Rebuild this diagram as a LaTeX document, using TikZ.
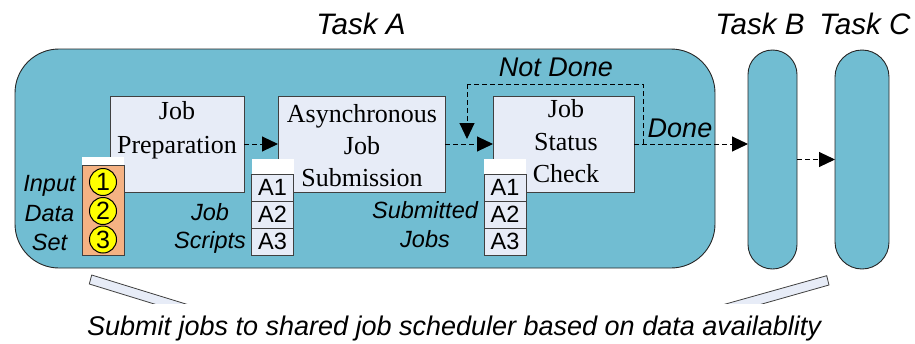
\documentclass[tikz,border=0pt]{standalone}
\usepackage{fontspec}
\setmainfont{Liberation Serif}
\setsansfont{Liberation Sans}
\usetikzlibrary{arrows.meta,calc}
\definecolor{taskblue}{HTML}{71BDD2}
\definecolor{boxfill}{HTML}{E7ECF7}
\definecolor{boxline}{HTML}{404040}
\definecolor{dataorange}{HTML}{F5B283}
\definecolor{dotyellow}{HTML}{FFFF00}

\begin{document}
\begin{tikzpicture}[x=1pt,y=-1pt,
  every node/.style={inner sep=0pt, outer sep=0pt},
  taskshape/.style={draw=black!85, line width=0.9pt, fill=taskblue},
  stepbox/.style={draw=boxline, line width=1pt, fill=boxfill, minimum height=96pt},
  steptext/.style={anchor=base, font=\fontsize{26}{32}\selectfont},
  cell/.style={draw=boxline, line width=1pt, fill=boxfill, minimum width=42pt, minimum height=27pt,
    font=\sffamily\fontsize{23.5}{23.5}\selectfont},
  capcell/.style={fill=white, minimum width=42pt},
  dot/.style={circle, draw=black, line width=1pt, fill=dotyellow, minimum size=27pt,
    font=\sffamily\fontsize{25}{25}\selectfont},
  tag/.style={anchor=base, font=\sffamily\itshape\fontsize{23.5}{28}\selectfont},
  title/.style={anchor=base, font=\sffamily\itshape\fontsize{29.6}{30}\selectfont},
  branch/.style={anchor=base, font=\sffamily\itshape\fontsize{27}{27}\selectfont},
  flow/.style={draw=black, line width=1pt, dash pattern=on 5pt off 3pt,
    -{Triangle[length=16pt,width=15pt]}},
  loopline/.style={draw=black, line width=1pt, dash pattern=on 5pt off 3pt},
  strip/.style={draw=boxline, line width=0.8pt, fill=boxfill},
]
\useasboundingbox (0,0) rectangle (915,343);

% task containers
\node[taskshape, rounded corners=44pt, minimum width=700pt, minimum height=219pt] (taskA) at (365,158.5) {};
\node[taskshape, rounded corners=24.5pt, minimum width=49pt, minimum height=219pt] (taskB) at (772.5,159.5) {};
\node[taskshape, rounded corners=27pt, minimum width=54pt, minimum height=219pt] (taskC) at (862,159.5) {};

\node[title] (titleA) at (361,34) {Task A};
\node[title] (titleB) at (760,34) {Task B};
\node[title] (titleC) at (865,34) {Task C};

% processing steps
\node[stepbox, minimum width=134pt] (prep) at (177,144) {};
\node[stepbox, minimum width=167pt] (async) at (361.5,144) {};
\node[stepbox, minimum width=141pt] (status) at (563.5,144) {};

\node[steptext] (prepL1) at (177,119.5) {Job};
\node[steptext] (prepL2) at (177,153) {Preparation};
\node[steptext] (asyncL1) at (362,122) {Asynchronous};
\node[steptext] (asyncL2) at (362,154) {Job};
\node[steptext] (asyncL3) at (362,186) {Submission};
\node[steptext] (statusL1) at (566,117.5) {Job};
\node[steptext] (statusL2) at (566,150) {Status};
\node[steptext] (statusL3) at (566,182.5) {Check};

% flow between steps and tasks
\draw[flow] (prep.east) -- (async.west);
\draw[flow] (async.east) -- (status.west);
\coordinate (split) at ($(status.east)+(9,0)$);
\coordinate (loopTop) at (467,84);
\coordinate (loopEnd) at (467,139);
\draw[flow] (status.east) -- (status.east -| taskB.west);
\draw[loopline] (split) |- (loopTop);
\draw[flow] (loopTop) -- (loopEnd);
\draw[flow] (taskB.east) -- (taskC.west);

\node[branch] (notDone) at (556,76) {Not Done};
\node[branch] (done) at (680,137.3) {Done};

% input data set
\node[capcell, minimum height=8pt] (inCap) at (103,161) {};
\node[draw=boxline, line width=1pt, fill=dataorange, minimum width=42pt, minimum height=90pt] (inData) at (103,210) {};
\node[dot] (d1) at (103,182) {1};
\node[dot] (d2) at (103,211) {2};
\node[dot] (d3) at (103,239.5) {3};

% job scripts
\node[capcell, minimum height=15pt] (jsCap) at (272.5,166.5) {};
\node[cell] (js1) at (272.5,187.5) {A1};
\node[cell] (js2) at (272.5,214.5) {A2};
\node[cell] (js3) at (272.5,241.5) {A3};

% submitted jobs
\node[capcell, minimum height=15pt] (sjCap) at (505,166.5) {};
\node[cell] (sj1) at (505,187.5) {A1};
\node[cell] (sj2) at (505,214.5) {A2};
\node[cell] (sj3) at (505,241.5) {A3};

% stack captions
\node[tag] (inL1) at (49.5,191.5) {Input};
\node[tag] (inL2) at (49.5,221.5) {Data};
\node[tag] (inL3) at (49.5,250) {Set};
\node[tag] (jsL1) at (210,220) {Job};
\node[tag] (jsL2) at (210,248) {Scripts};
\node[tag] (sjL1) at (425,218) {Submitted};
\node[tag] (sjL2) at (425,247) {Jobs};

% callout strips toward the note
\begin{scope}
  \clip (0,0) rectangle (915,303);
  \path[strip] (91.7,275) -- (205.4,310) -- (173.8,310) -- (89.3,284) -- cycle;
  \path[strip] (826.7,275.7) -- (829,285) -- (740.8,310) -- (704.2,310) -- cycle;
\end{scope}

\node[anchor=base, font=\sffamily\itshape\fontsize{27}{27}\selectfont] (note) at (454,335)
  {Submit jobs to shared job scheduler based on data availablity};
\end{tikzpicture}
\end{document}
